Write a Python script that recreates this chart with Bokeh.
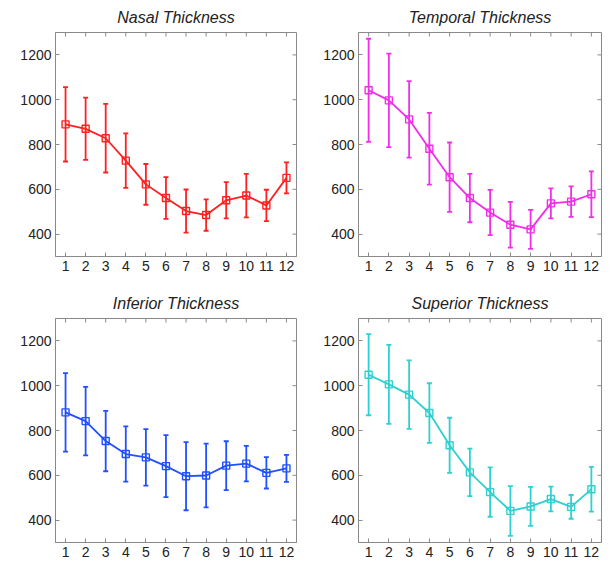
import math
from bokeh.plotting import figure
from bokeh.layouts import gridplot
from bokeh.models import ColumnDataSource, Whisker, TeeHead, Range1d, FixedTicker
from bokeh.embed import file_html
from bokeh.resources import INLINE

positions = list(range(1, 13))
x_tick_labels = [str(i) for i in positions]
y_ticks = [400, 600, 800, 1000, 1200]
y_limits = (300, 1300)
x_limits = (0.5, 12.5)

nasal_mean = [890, 870, 828, 728, 622, 561, 503, 485, 551, 572, 528, 651]
nasal_sd = [166, 139, 153, 122, 91, 93, 96, 70, 81, 97, 70, 69]

temporal_mean = [1042, 997, 912, 781, 654, 561, 496, 442, 421, 537, 545, 578]
temporal_sd = [230, 209, 171, 160, 155, 108, 101, 102, 87, 67, 68, 102]

inferior_mean = [881, 842, 753, 695, 680, 641, 596, 599, 643, 652, 611, 631]
inferior_sd = [175, 153, 135, 123, 126, 138, 152, 142, 109, 79, 70, 60]

superior_mean = [1049, 1006, 960, 878, 734, 613, 525, 441, 461, 494, 459, 538]
superior_sd = [181, 176, 153, 133, 123, 106, 110, 111, 87, 55, 53, 100]

FONT = "Liberation Sans"
FRAME = "#8a8a8a"
TEXT = "#222222"
LW = 1.8


def style_axis(ax):
    ax.axis_line_color = FRAME
    ax.major_tick_line_color = FRAME
    ax.major_tick_in = 4
    ax.major_tick_out = 0
    ax.minor_tick_line_color = None
    ax.major_label_text_font = FONT
    ax.major_label_text_font_size = "14px"
    ax.major_label_text_color = TEXT
    ax.major_label_standoff = 4


def make_panel(title, mean, sd, color, width, height, bottom_border, right_border):
    p = figure(width=width, height=height,
               x_range=Range1d(*x_limits), y_range=Range1d(*y_limits),
               output_backend="svg", toolbar_location=None,
               min_border_left=55, min_border_right=right_border,
               min_border_top=32, min_border_bottom=bottom_border)
    p.title.text = title
    p.title.align = "center"
    p.title.text_font = FONT
    p.title.text_font_style = "italic"
    p.title.text_font_size = "16px"
    p.title.text_color = TEXT
    p.title.text_line_height = 0.7
    p.title.standoff = 13
    p.grid.visible = False
    p.outline_line_color = FRAME
    p.background_fill_color = "white"
    p.border_fill_color = "white"

    p.xaxis.ticker = FixedTicker(ticks=positions)
    p.xaxis.major_label_overrides = {pos: lab for pos, lab in zip(positions, x_tick_labels)}
    p.yaxis.ticker = FixedTicker(ticks=y_ticks)
    style_axis(p.xaxis[0])
    style_axis(p.yaxis[0])

    # inward ticks on the top and right edges of the box (half of each dash is clipped by the frame)
    p.scatter(x=positions, y=[y_limits[1]] * len(positions), marker="dash", angle=math.pi / 2,
              size=8, line_color=FRAME, line_width=1)
    p.scatter(x=[x_limits[1]] * len(y_ticks), y=y_ticks, marker="dash",
              size=8, line_color=FRAME, line_width=1)

    lower = [m - s for m, s in zip(mean, sd)]
    upper = [m + s for m, s in zip(mean, sd)]
    src = ColumnDataSource(dict(x=positions, mean=mean, lower=lower, upper=upper))

    w = Whisker(source=src, base="x", upper="upper", lower="lower",
                line_color=color, line_width=LW,
                upper_head=TeeHead(size=5, line_color=color, line_width=LW),
                lower_head=TeeHead(size=5, line_color=color, line_width=LW))
    p.add_layout(w)
    p.line("x", "mean", source=src, line_color=color, line_width=LW)
    p.scatter("x", "mean", source=src, marker="square", size=7,
              line_color=color, fill_color=None, line_width=1.4)
    return p


p1 = make_panel("Nasal Thickness", nasal_mean, nasal_sd, "#ff2020", 303, 286, 30, 7)
p2 = make_panel("Temporal Thickness", temporal_mean, temporal_sd, "#f02ee8", 306, 286, 30, 8)
p3 = make_panel("Inferior Thickness", inferior_mean, inferior_sd, "#2050ff", 303, 277, 21, 7)
p4 = make_panel("Superior Thickness", superior_mean, superior_sd, "#2ed0d0", 306, 277, 21, 8)

grid = gridplot([[p1, p2], [p3, p4]], toolbar_location=None)

open("out.html", "w").write(file_html(grid, INLINE))
